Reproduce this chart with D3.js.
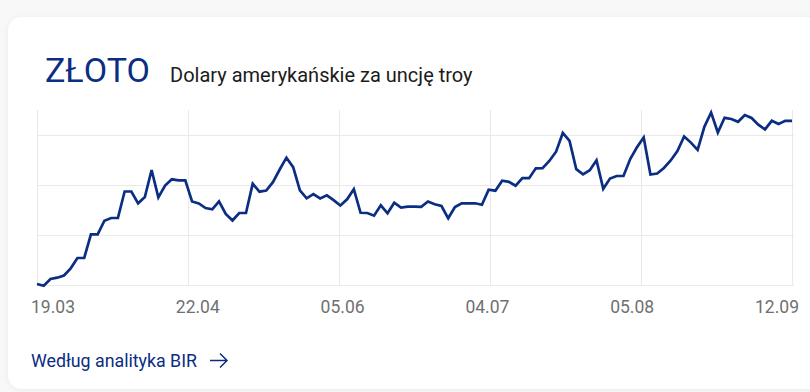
<!DOCTYPE html>
<html>
<head>
<meta charset="utf-8">
<script src="https://cdn.jsdelivr.net/npm/d3@7"></script>
<style>
body { margin: 0; background: #f8f8f8; font-family: Roboto, "Noto Sans", sans-serif; }
</style>
</head>
<body>
<div id="chart-area"></div>
<script>
// labels under the chart
var dateLabels = ["19.03", "22.04", "05.06", "04.07", "05.08", "12.09"];

// gold price, USD per troy ounce
var prices = [
    2152, 2148.6, 2162, 2164.6, 2169, 2183.4, 2204, 2204, 2251.4, 2251.4,
    2278.6, 2284, 2284, 2337, 2337, 2313.4, 2326, 2380, 2325.4, 2349,
    2361.4, 2359.4, 2359.4, 2317, 2313, 2304, 2301.4, 2317.4, 2292, 2279,
    2294, 2294, 2352.6, 2336.6, 2339, 2355.6, 2381, 2404.6, 2385.6, 2339.4,
    2323.4, 2331.6, 2323, 2329.4, 2319.6, 2309, 2321.4, 2341.6, 2294.4, 2294,
    2288.6, 2309.4, 2293.4, 2314.6, 2305, 2306.6, 2306.6, 2306.4, 2317, 2311.6,
    2308, 2283.4, 2306, 2313.4, 2313.4, 2313.4, 2310.6, 2340.6, 2338.6, 2358.6,
    2356.4, 2348.6, 2363.6, 2363.6, 2383.4, 2383.6, 2398, 2416.6, 2454, 2438,
    2381.6, 2371.4, 2379.6, 2399.6, 2342.4, 2363, 2368, 2368, 2402, 2425.4,
    2445.2, 2371, 2373, 2384, 2399, 2418, 2447, 2434.8, 2420.4, 2466.4,
    2495, 2455, 2484.4, 2482, 2476.4, 2490, 2484, 2470.6, 2461.2, 2478.4,
    2472, 2478.4, 2478.4
];

// horizontal grid lines
var gridValues = [2150, 2250, 2350, 2450];

var width = 810;
var height = 392;
var navy = "#0b2d82";

var svg = d3.select("#chart-area")
    .append("svg")
    .attr("width", width)
    .attr("height", height);

var defs = svg.append("defs");
var shadow = defs.append("filter")
    .attr("id", "shadow")
    .attr("x", "-5%").attr("y", "-5%")
    .attr("width", "110%").attr("height", "110%");
shadow.append("feDropShadow")
    .attr("dx", 0).attr("dy", 1)
    .attr("stdDeviation", 3)
    .attr("flood-color", "#000")
    .attr("flood-opacity", 0.06);

// card
svg.append("rect")
    .attr("x", 8)
    .attr("y", 17)
    .attr("width", 840)
    .attr("height", 372)
    .attr("rx", 14)
    .attr("fill", "#fff")
    .attr("filter", "url(#shadow)");

// title
svg.append("text")
    .attr("x", 45)
    .attr("y", 82)
    .attr("fill", navy)
    .attr("style", "font-size: 34px")
    .text("ZŁOTO");

svg.append("text")
    .attr("x", 170)
    .attr("y", 82)
    .attr("fill", "#1b1b1b")
    .attr("style", "font-size: 20px")
    .text("Dolary amerykańskie za uncję troy");

var x = d3.scaleLinear()
    .domain([0, prices.length - 1])
    .range([37, 792]);

var y = d3.scaleLinear()
    .domain([2150, 2500])
    .range([285, 110]);

var g = svg.append("g");

// vertical grid
var vTicks = d3.range(6).map(function (i) { return i * (prices.length - 1) / 5; });
g.selectAll(".vgrid")
    .data(vTicks)
    .enter()
    .append("line")
    .attr("class", "vgrid")
    .attr("x1", d => Math.round(x(d)) + 0.5)
    .attr("x2", d => Math.round(x(d)) + 0.5)
    .attr("y1", y(2500))
    .attr("y2", y(2150))
    .attr("stroke", "#e9e9e9");

// horizontal grid
g.selectAll(".hgrid")
    .data(gridValues)
    .enter()
    .append("line")
    .attr("class", "hgrid")
    .attr("x1", x(0))
    .attr("x2", x(prices.length - 1) + 2)
    .attr("y1", d => Math.round(y(d)) + 0.5)
    .attr("y2", d => Math.round(y(d)) + 0.5)
    .attr("stroke", "#e9e9e9");

// price line
var line = d3.line()
    .x((d, i) => x(i))
    .y(d => y(d));

g.append("path")
    .datum(prices)
    .attr("d", line)
    .attr("fill", "none")
    .attr("stroke", navy)
    .attr("stroke-width", 2.7)
    .attr("stroke-linejoin", "miter");

// date labels
var xLab = d3.scalePoint()
    .domain(dateLabels)
    .range([53, 777]);

g.selectAll(".xlabel")
    .data(dateLabels)
    .enter()
    .append("text")
    .attr("class", "xlabel")
    .attr("x", d => xLab(d))
    .attr("y", 313)
    .attr("text-anchor", "middle")
    .attr("fill", "#707070")
    .attr("style", "font-size: 17.5px")
    .text(d => d);

// link
var link = svg.append("g");
link.append("text")
    .attr("x", 31)
    .attr("y", 367)
    .attr("fill", navy)
    .attr("style", "font-size: 17.8px")
    .text("Według analityka BIR");

link.append("path")
    .attr("d", "M210,360.5 H227 M220,353.5 L227,360.5 L220,367.5")
    .attr("fill", "none")
    .attr("stroke", navy)
    .attr("stroke-width", 1.5);
</script>
</body>
</html>
